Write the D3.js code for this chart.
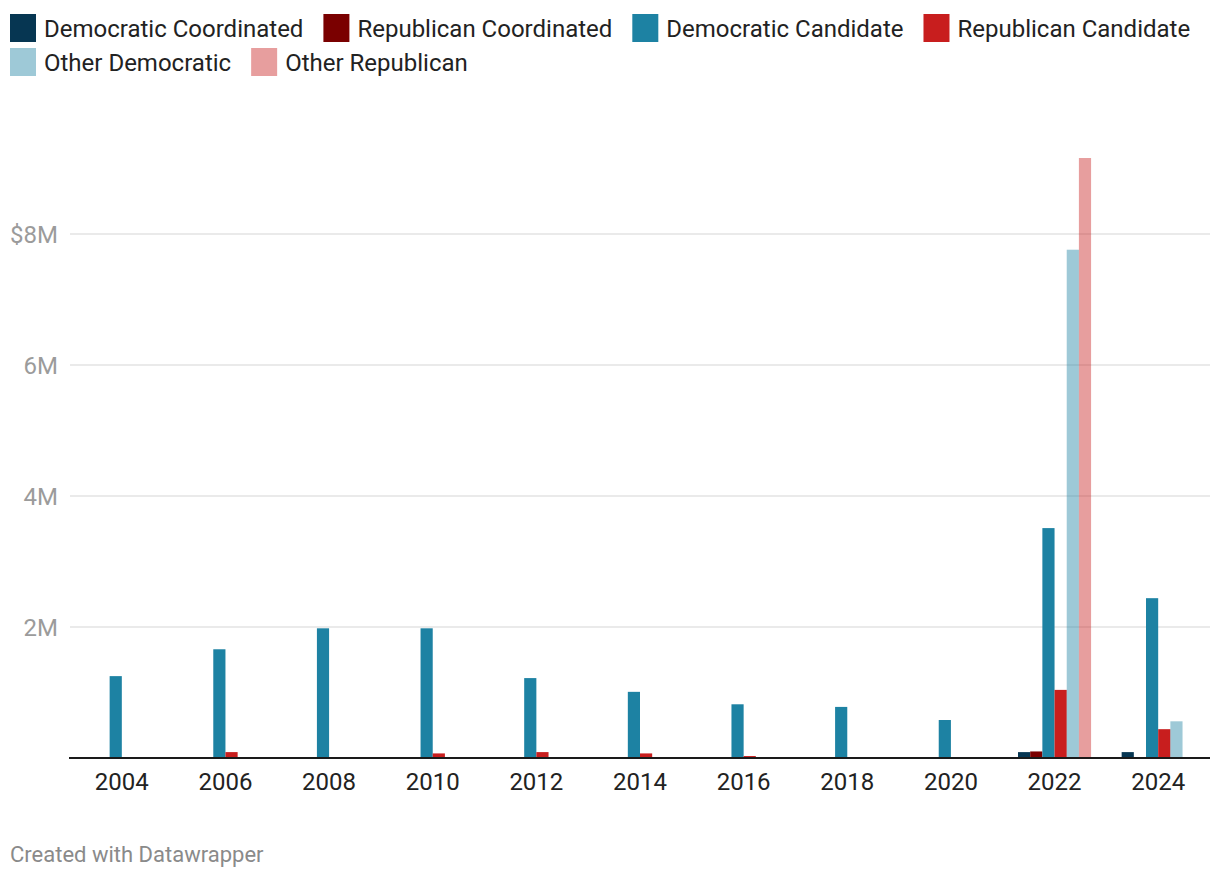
<!DOCTYPE html>
<html>
<head>
<meta charset="utf-8">
<script src="https://cdn.jsdelivr.net/npm/d3@7"></script>
<style>
  body { margin: 0; background: #fff; font-family: Roboto, "Noto Sans", sans-serif; }
</style>
</head>
<body>
<svg id="chart"></svg>
<script>
// data (millions of dollars)
const years = ['2004', '2006', '2008', '2010', '2012', '2014', '2016', '2018', '2020', '2022', '2024'];
const seriesNames = ['Democratic Coordinated', 'Republican Coordinated', 'Democratic Candidate', 'Republican Candidate', 'Other Democratic', 'Other Republican'];
const seriesColors = ['#063652', '#7a0000', '#1d82a3', '#c81e1e', '#1d82a3', '#c81e1e'];
const seriesOpacity = [1, 1, 1, 1, 0.43, 0.43];

const demCoordinated = [0, 0, 0, 0, 0, 0, 0, 0, 0, 0.09, 0.09];
const repCoordinated = [0, 0, 0, 0, 0, 0, 0, 0, 0, 0.1, 0];
const demCandidate = [1.25, 1.66, 1.98, 1.98, 1.22, 1.01, 0.82, 0.78, 0.58, 3.51, 2.44];
const repCandidate = [0, 0.09, 0, 0.07, 0.09, 0.07, 0.03, 0, 0, 1.04, 0.44];
const otherDem = [0, 0, 0, 0, 0, 0, 0, 0, 0, 7.76, 0.56];
const otherRep = [0, 0, 0, 0, 0, 0, 0, 0, 0, 9.16, 0];

const yTicks = [2, 4, 6, 8];

const allSeries = [demCoordinated, repCoordinated, demCandidate, repCandidate, otherDem, otherRep];

const width = 1220;
const height = 880;
const left = 70, right = 1210, baseY = 758;

const svg = d3.select('#chart')
  .attr('width', width)
  .attr('height', height);

// legend
const legendRows = [[0, 1, 2, 3], [4, 5]];
legendRows.forEach(function(row, r) {
  let x = 10;
  const cy = 28 + r * 34;
  row.forEach(function(i) {
    const g = svg.append('g');
    g.append('rect')
      .attr('x', x).attr('y', cy - 14)
      .attr('width', 26).attr('height', 28)
      .attr('fill', seriesColors[i])
      .attr('fill-opacity', seriesOpacity[i]);
    const t = g.append('text')
      .attr('x', x + 34).attr('y', cy + 8.5)
      .attr('font-size', 24)
      .attr('fill', '#222')
      .text(seriesNames[i]);
    x += 34 + t.node().getComputedTextLength() + 20;
  });
});

const x0 = d3.scaleBand()
  .domain(years)
  .range([left, right])
  .paddingInner(0.295)
  .paddingOuter(0.1475);

const x1 = d3.scaleBand()
  .domain(d3.range(seriesNames.length))
  .range([0, x0.bandwidth()]);

const y = d3.scaleLinear()
  .domain([0, 8])
  .range([baseY, 234]);

// grid
svg.append('g')
  .selectAll('line')
  .data(yTicks)
  .enter()
  .append('line')
  .attr('x1', left).attr('x2', right)
  .attr('y1', d => y(d)).attr('y2', d => y(d))
  .attr('stroke', '#e3e3e3')
  .attr('stroke-width', 1.5);

svg.append('g')
  .selectAll('text')
  .data(yTicks)
  .enter()
  .append('text')
  .attr('x', 58)
  .attr('y', d => y(d) + 8.5)
  .attr('text-anchor', 'end')
  .attr('font-size', 24)
  .attr('fill', '#9b9b9b')
  .text(d => (d === 8 ? '$' : '') + d + 'M');

// bars
const groups = svg.append('g')
  .selectAll('g')
  .data(years)
  .enter()
  .append('g')
  .attr('transform', d => `translate(${x0(d)},0)`);

groups.selectAll('rect')
  .data((yr, yi) => allSeries.map((s, si) => ({ si: si, v: s[yi] })).filter(d => d.v > 0))
  .enter()
  .append('rect')
  .attr('x', d => x1(d.si))
  .attr('width', x1.bandwidth())
  .attr('y', d => y(d.v))
  .attr('height', d => baseY - y(d.v))
  .attr('fill', d => seriesColors[d.si])
  .attr('fill-opacity', d => seriesOpacity[d.si]);

// baseline
svg.append('line')
  .attr('x1', left - 1).attr('x2', right)
  .attr('y1', baseY).attr('y2', baseY)
  .attr('stroke', '#1a1a1a')
  .attr('stroke-width', 2);

// x labels
svg.append('g')
  .selectAll('text')
  .data(years)
  .enter()
  .append('text')
  .attr('x', d => x0(d) + x0.bandwidth() / 2)
  .attr('y', 790)
  .attr('text-anchor', 'middle')
  .attr('font-size', 24)
  .attr('fill', '#222')
  .text(d => d);

svg.append('text')
  .attr('x', 10).attr('y', 862)
  .attr('font-size', 22)
  .attr('fill', '#8a8a8a')
  .text('Created with Datawrapper');
</script>
</body>
</html>
